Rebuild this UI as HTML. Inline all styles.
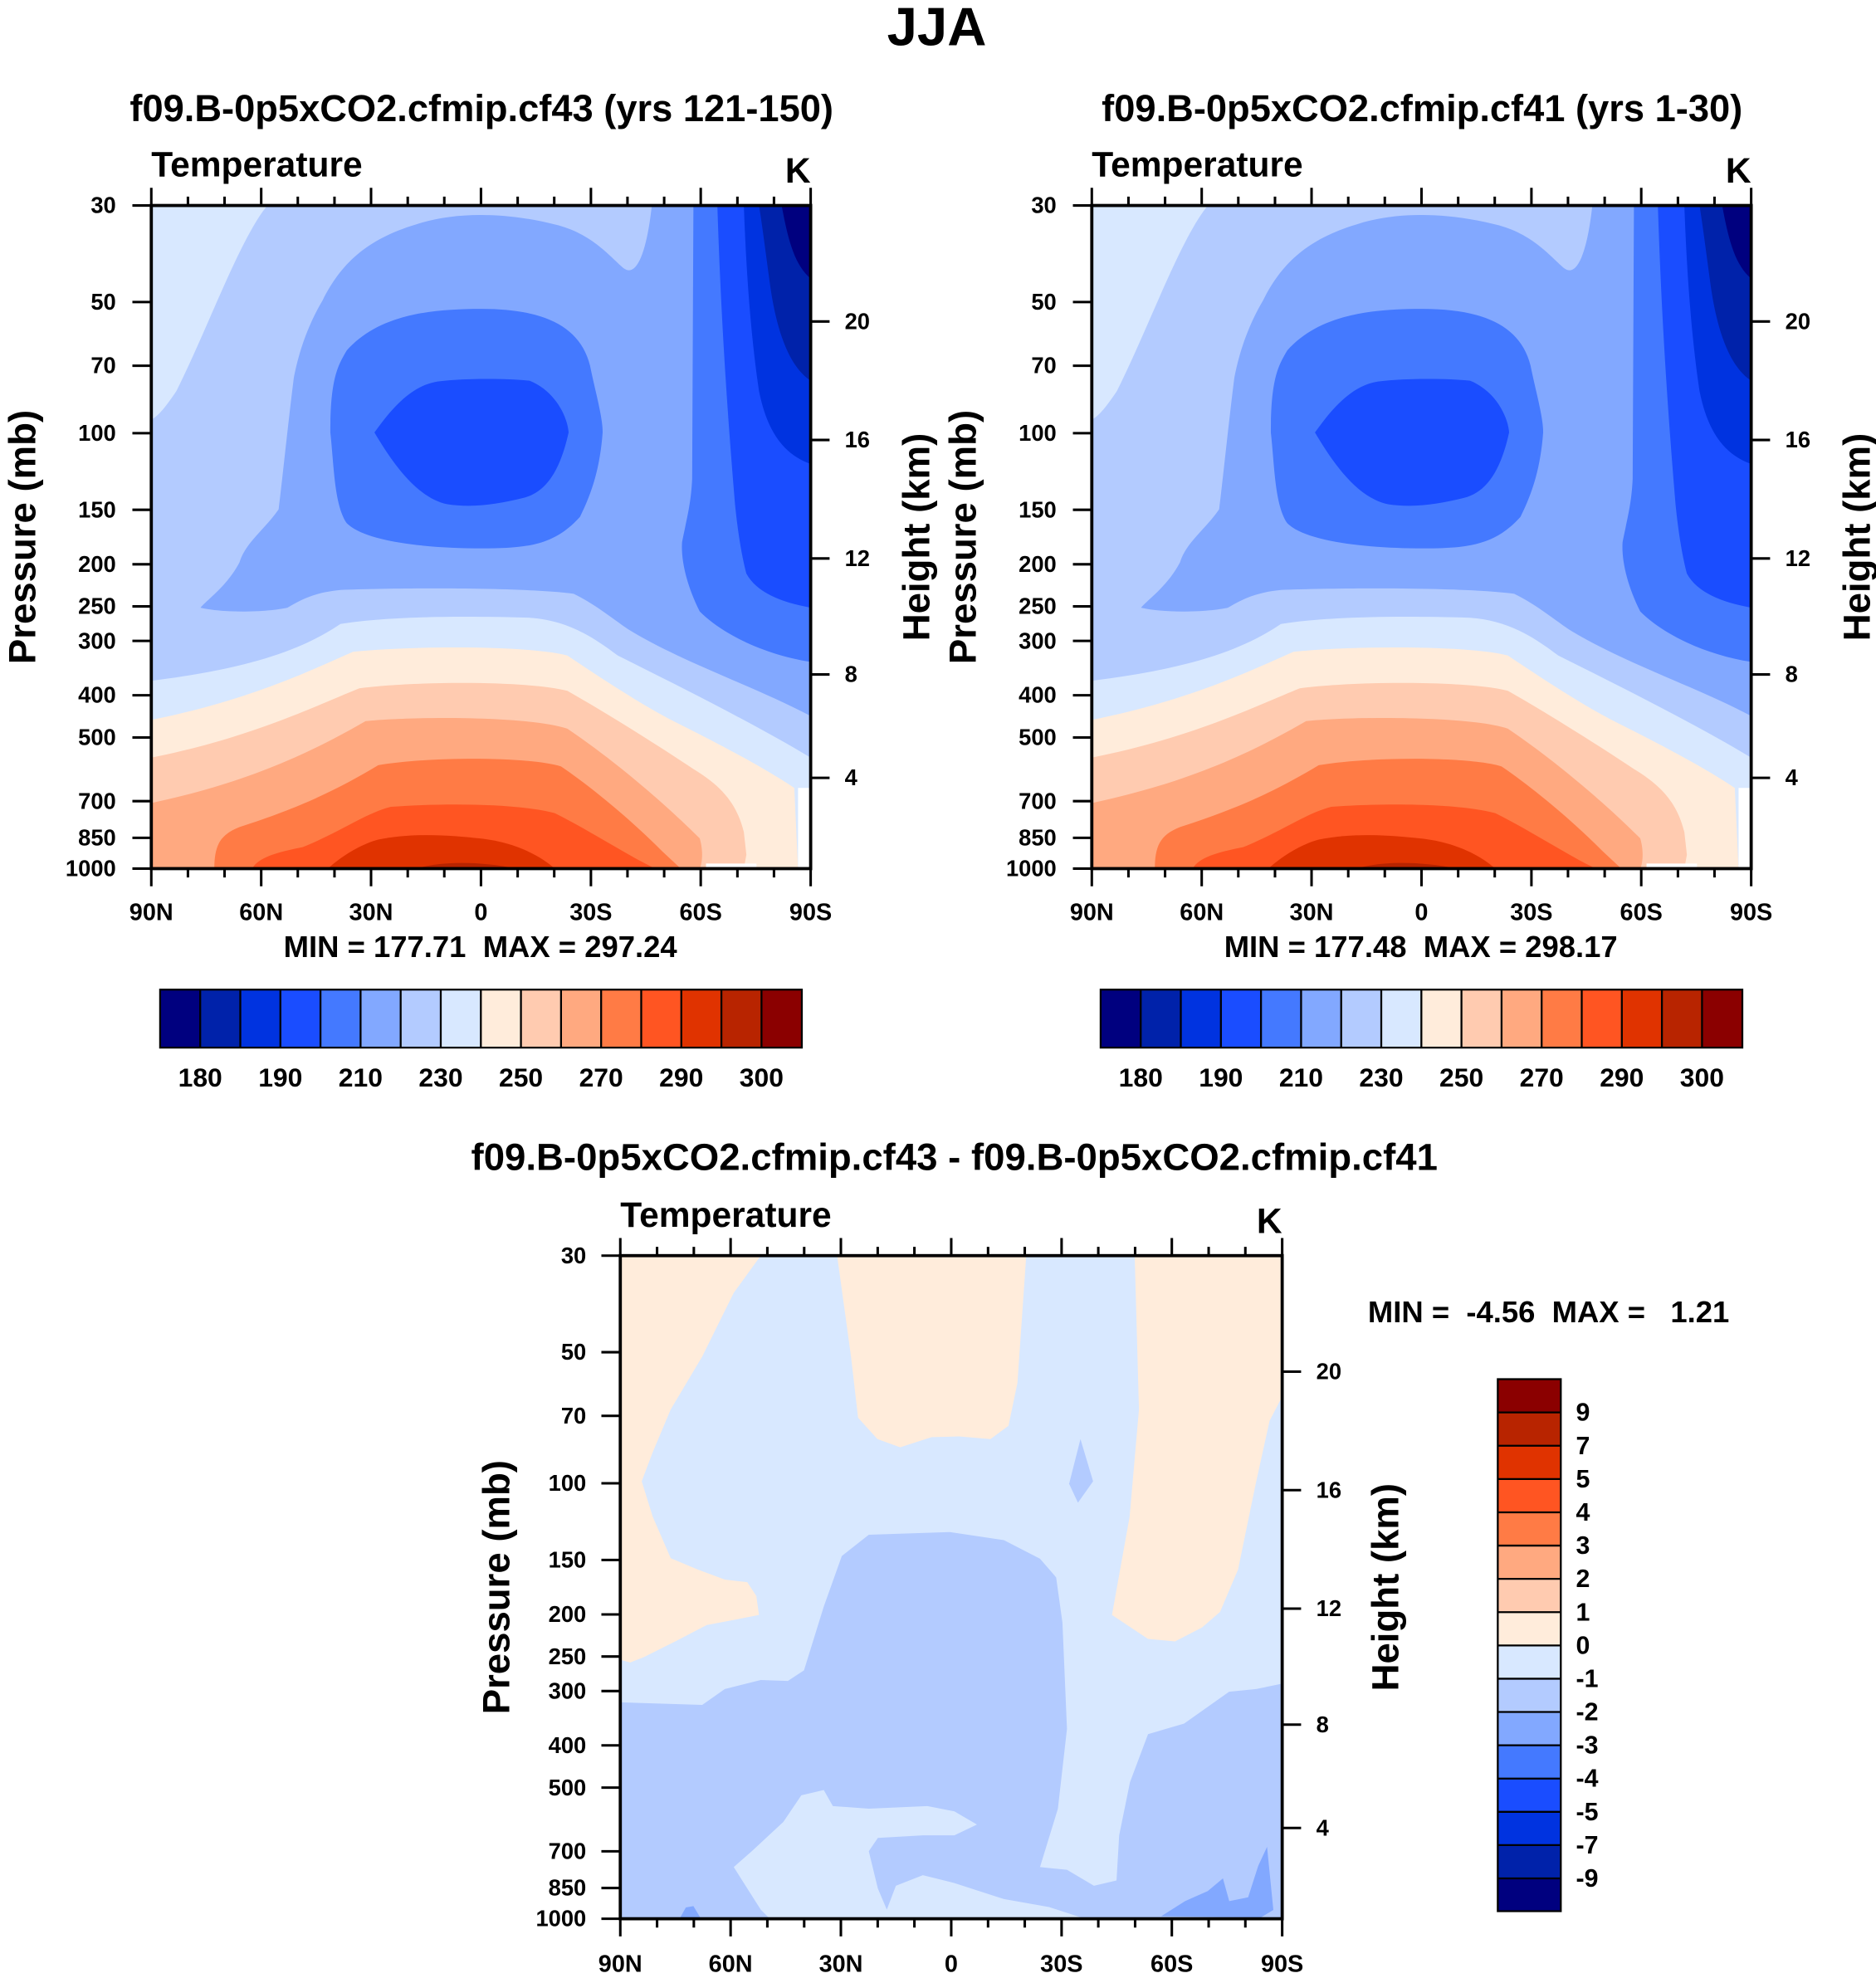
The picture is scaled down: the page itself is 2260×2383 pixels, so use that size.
<!DOCTYPE html>
<html><head><meta charset="utf-8"><style>
html,body{margin:0;padding:0;background:#fff}
svg{display:block}
text{font-family:"Liberation Sans",sans-serif;font-weight:bold;fill:#000}
</style></head><body>
<svg width="2260" height="2383" viewBox="0 0 1488 1569" xmlns="http://www.w3.org/2000/svg">
<defs>
<g id="fieldT">
<rect x="120" y="163" width="523" height="526" fill="#b3cbff"/>
<path fill="#d8e8ff" d="M120,163 L212,163 C190,190 165,260 140,310 C130,325 125,330 120,333 Z"/>
<path fill="#82a8ff" d="M517,163 C513,200 505,220 495,213 C485,205 470,185 440,178 C400,168 360,168 330,178 C290,190 270,210 256,238 C240,265 235,290 233,300 C228,340 224,380 221,404 C210,420 195,430 190,446 C180,465 165,475 159,482 C180,487 215,485 228,482 C240,475 250,470 270,468 C320,466 420,466 455,471 C470,478 485,490 498,499 C540,525 600,545 643,568 L643,163 Z"/>
<path fill="#4479ff" d="M262,343 C262,300 268,290 275,278 C300,250 340,245 382,245 C430,245 460,258 468,290 C472,310 478,330 478,343 C476,370 470,390 460,410 C440,432 420,435 382,435 C340,435 290,430 275,415 C265,400 265,370 262,343 Z"/>
<path fill="#1a4dff" d="M297,343 C310,325 325,307 345,303 C365,300 400,300 420,302 C440,310 450,330 451,343 C445,370 435,390 415,395 C395,400 375,403 355,400 C330,395 310,365 297,343 Z"/>
<path fill="#4479ff" d="M550,163 L643,163 L643,525 C610,520 575,505 555,485 C545,465 540,445 541,430 C545,410 548,400 549,380 Z"/>
<path fill="#1a4dff" d="M569,163 L643,163 L643,482 C620,478 600,470 592,455 C588,440 585,420 583,400 C578,340 572,260 569,163 Z"/>
<path fill="#0033e0" d="M590,163 L643,163 L643,368 C620,360 608,340 602,310 C596,270 592,220 590,163 Z"/>
<path fill="#0022aa" d="M602,163 L643,163 L643,302 C625,290 615,260 610,220 C606,190 604,175 602,163 Z"/>
<path fill="#00007f" d="M620,163 L643,163 L643,221 C630,210 625,190 620,163 Z"/>
<path fill="#d8e8ff" d="M120,540 C200,530 240,515 270,495 C300,490 350,488 420,490 C450,492 470,505 490,520 C540,545 600,575 643,601 L643,689 L120,689 Z"/>
<path fill="#ffecdb" d="M120,571 C200,555 250,530 280,517 C330,512 420,512 450,520 C480,540 510,560 540,575 C590,600 615,615 630,625 L633,689 L120,689 Z"/>
<path fill="#ffcbb0" d="M120,601 C200,585 250,560 285,546 C330,540 420,540 450,548 C480,565 520,590 550,610 C575,625 585,640 590,660 L592,678 L590,689 L120,689 Z"/>
<path fill="#ffa980" d="M120,637 C200,620 250,595 290,572 C330,568 420,568 450,578 C490,605 530,640 555,665 C558,675 557,685 555,689 L120,689 Z"/>
<path fill="#ff7b45" d="M170,689 C170,670 175,662 190,656 C240,640 270,625 300,607 C340,600 420,600 445,608 C470,625 500,650 525,675 L540,689 Z"/>
<path fill="#ff5522" d="M200,689 C205,680 220,676 240,672 C270,660 290,645 310,640 C350,637 410,637 440,645 C470,660 500,680 520,689 Z"/>
<path fill="#e03300" d="M260,689 C270,680 285,670 300,666 C330,660 360,663 380,665 C410,668 430,680 440,689 Z"/>
<path fill="#b82400" d="M330,689 C350,683 380,683 410,689 Z"/>
<rect x="560" y="685" width="40" height="4" fill="#fff"/>
<rect x="633" y="625" width="10" height="64" fill="#fff"/>
</g>
<path id="lt" fill="none" stroke="#000" stroke-width="2" d="M0,0v-14 M29.06,0v-7 M58.11,0v-7 M87.17,0v-14 M116.2,0v-7 M145.3,0v-7 M174.3,0v-14 M203.4,0v-7 M232.4,0v-7 M261.5,0v-14 M290.6,0v-7 M319.6,0v-7 M348.7,0v-14 M377.7,0v-7 M406.8,0v-7 M435.8,0v-14 M464.9,0v-7 M493.9,0v-7 M523,0v-14"/>
<g id="axesT">
<rect x="120" y="163" width="523" height="526" fill="none" stroke="#000" stroke-width="2.5"/>
<use href="#lt" transform="translate(120,163)"/>
<use href="#lt" transform="translate(120,689) scale(1,-1)"/>
<path stroke="#000" stroke-width="2" d="M105,163h15 M105,239.6h15 M105,290.1h15 M105,343.6h15 M105,404.4h15 M105,447.6h15 M105,481h15 M105,508.4h15 M105,551.5h15 M105,585h15 M105,635.5h15 M105,664.6h15 M105,689h15 M643,255h15 M643,349h15 M643,443h15 M643,535h15 M643,617h15"/>
<g font-size="18" text-anchor="end">
<text x="92" y="169">30</text><text x="92" y="245.6">50</text><text x="92" y="296.1">70</text><text x="92" y="349.6">100</text><text x="92" y="410.4">150</text><text x="92" y="453.6">200</text><text x="92" y="487">250</text><text x="92" y="514.4">300</text><text x="92" y="557.5">400</text><text x="92" y="591">500</text><text x="92" y="641.5">700</text><text x="92" y="670.6">850</text><text x="92" y="695">1000</text>
</g>
<g font-size="18">
<text x="670" y="261">20</text><text x="670" y="355">16</text><text x="670" y="449">12</text><text x="670" y="541">8</text><text x="670" y="623">4</text>
</g>
<g font-size="19" text-anchor="middle">
<text x="120" y="730">90N</text><text x="207.2" y="730">60N</text><text x="294.3" y="730">30N</text><text x="381.5" y="730">0</text><text x="468.7" y="730">30S</text><text x="555.8" y="730">60S</text><text x="643" y="730">90S</text>
</g>
<text x="120" y="140" font-size="28">Temperature</text>
<text x="643" y="145" font-size="28" text-anchor="end">K</text>
<text font-size="30" text-anchor="middle" transform="translate(28,426) rotate(-90)">Pressure (mb)</text>
<text font-size="30" text-anchor="middle" transform="translate(737,426) rotate(-90)">Height (km)</text>
</g>
<g id="cbarH">
<rect x="127" y="785" width="31.8" height="46" fill="#00007f"/>
<rect x="158.8" y="785" width="31.8" height="46" fill="#0022aa"/>
<rect x="190.6" y="785" width="31.8" height="46" fill="#0033e0"/>
<rect x="222.4" y="785" width="31.8" height="46" fill="#1a4dff"/>
<rect x="254.2" y="785" width="31.8" height="46" fill="#4479ff"/>
<rect x="286" y="785" width="31.8" height="46" fill="#82a8ff"/>
<rect x="317.8" y="785" width="31.8" height="46" fill="#b3cbff"/>
<rect x="349.6" y="785" width="31.8" height="46" fill="#d8e8ff"/>
<rect x="381.4" y="785" width="31.8" height="46" fill="#ffecdb"/>
<rect x="413.2" y="785" width="31.8" height="46" fill="#ffcbb0"/>
<rect x="445" y="785" width="31.8" height="46" fill="#ffa980"/>
<rect x="476.8" y="785" width="31.8" height="46" fill="#ff7b45"/>
<rect x="508.6" y="785" width="31.8" height="46" fill="#ff5522"/>
<rect x="540.4" y="785" width="31.8" height="46" fill="#e03300"/>
<rect x="572.2" y="785" width="31.8" height="46" fill="#b82400"/>
<rect x="604" y="785" width="32" height="46" fill="#8b0000"/>
<path fill="none" stroke="#000" stroke-width="1.5" d="M127,785h509v46h-509Z M158.8,785v46 M190.6,785v46 M222.4,785v46 M254.2,785v46 M286,785v46 M317.8,785v46 M349.6,785v46 M381.4,785v46 M413.2,785v46 M445,785v46 M476.8,785v46 M508.6,785v46 M540.4,785v46 M572.2,785v46 M604,785v46"/>
<g font-size="21" text-anchor="middle">
<text x="158.8" y="862">180</text><text x="222.4" y="862">190</text><text x="286" y="862">210</text><text x="349.6" y="862">230</text><text x="413.2" y="862">250</text><text x="476.8" y="862">270</text><text x="540.4" y="862">290</text><text x="604" y="862">300</text>
</g>
</g>
</defs>

<text x="743" y="36" font-size="43" text-anchor="middle">JJA</text>

<!-- left -->
<text x="382" y="96" font-size="29.8" text-anchor="middle">f09.B-0p5xCO2.cfmip.cf43 (yrs 121-150)</text>
<use href="#fieldT"/>
<use href="#axesT"/>
<text x="381" y="759" font-size="24" text-anchor="middle" xml:space="preserve">MIN = 177.71  MAX = 297.24</text>
<use href="#cbarH"/>

<!-- right -->
<text x="1128" y="96" font-size="29.8" text-anchor="middle">f09.B-0p5xCO2.cfmip.cf41 (yrs 1-30)</text>
<g transform="translate(746,0)">
<use href="#fieldT"/>
<use href="#axesT"/>
<text x="381" y="759" font-size="24" text-anchor="middle" xml:space="preserve">MIN = 177.48  MAX = 298.17</text>
<use href="#cbarH"/>
</g>

<!-- bottom -->
<text x="757" y="928" font-size="30" text-anchor="middle">f09.B-0p5xCO2.cfmip.cf43 - f09.B-0p5xCO2.cfmip.cf41</text>
<rect x="492" y="996" width="525" height="526" fill="#d8e8ff"/>
<path fill="#ffecdb" d="M492,996 L603.4,996 L582,1025.5 L557,1076 L532,1118 L517.7,1152 L509,1175 L517.7,1203 L532,1236 L553.4,1245 L574.9,1253 L592.7,1255 L599.9,1266 L602,1281 L582,1285 L560.6,1289 L535.6,1302 L510.6,1314.5 L499.9,1318.7 L492,1316.6 Z"/>
<path fill="#ffecdb" d="M664,996 L675,1076 L680.6,1124.6 L696,1141.5 L714,1148 L739,1140 L760.6,1139.4 L785.6,1141.5 L799.9,1131 L807,1097 L814,996 Z"/>
<path fill="#ffecdb" d="M900,996 L903.4,1118 L896,1203 L882,1281 L910.6,1300 L932,1302 L953.4,1291 L967.7,1278.6 L982,1245 L996,1177 L1007,1127 L1017,1107.8 L1017,996 Z"/>
<path fill="#b3cbff" d="M857,1141.5 L848,1177 L855,1192 L867,1175 Z"/>
<path fill="#b3cbff" d="M492,1350.3 L557,1352.4 L574.9,1339.8 L603.4,1332.6 L624.9,1333.4 L637.7,1325 L653.4,1274.4 L667.7,1234.3 L689.1,1217.4 L753.4,1215.3 L796.3,1221.7 L824.9,1236.4 L837.7,1251.2 L842.7,1287 L846.3,1371.4 L839.1,1434.7 L824.9,1481 L846.3,1483.2 L867.7,1495.8 L885.6,1491.6 L887.7,1455.8 L896.3,1413.6 L910.6,1375.6 L939.2,1367.2 L974.9,1341.9 L996.3,1339.8 L1017,1335.5 L1017,1522 L492,1522 Z"/>
<path fill="#d8e8ff" d="M610.6,1522 L603.4,1514.8 L582,1481 L596.3,1468.4 L621.3,1445.2 L635.6,1424.1 L653.4,1419.9 L660.6,1432.6 L689.1,1434.7 L735.6,1432.6 L757,1436.8 L774.9,1447.3 L757,1455.8 L732,1455.8 L696.3,1457.9 L689.1,1468.4 L696.3,1498 L703.4,1514.8 L710.6,1495.8 L732,1487.4 L757,1493.7 L796.3,1506.4 L832,1512.7 L860.6,1522 Z"/>
<path fill="#82a8ff" d="M921,1520 L940,1508 L958,1500 L970,1490 L975,1508 L990,1505 L998,1480 L1005,1465 L1010,1515 L1000,1521 Z"/>
<path fill="#82a8ff" d="M539,1522 L544,1513 L550,1512 L556,1522 Z"/>
<rect x="492" y="996" width="525" height="526" fill="none" stroke="#000" stroke-width="2.5"/>
<use href="#lt" transform="translate(492,996) scale(1.00382,1)"/>
<use href="#lt" transform="translate(492,1522) scale(1.00382,-1)"/>
<path stroke="#000" stroke-width="2" d="M477,996h15 M477,1072.6h15 M477,1123.1h15 M477,1176.6h15 M477,1237.4h15 M477,1280.6h15 M477,1314h15 M477,1341.4h15 M477,1384.5h15 M477,1418h15 M477,1468.5h15 M477,1497.6h15 M477,1522h15 M1017,1088h15 M1017,1182h15 M1017,1276h15 M1017,1368h15 M1017,1450h15"/>
<g font-size="18" text-anchor="end">
<text x="465" y="1002">30</text><text x="465" y="1078.6">50</text><text x="465" y="1129.1">70</text><text x="465" y="1182.6">100</text><text x="465" y="1243.4">150</text><text x="465" y="1286.6">200</text><text x="465" y="1320">250</text><text x="465" y="1347.4">300</text><text x="465" y="1390.5">400</text><text x="465" y="1424">500</text><text x="465" y="1474.5">700</text><text x="465" y="1503.6">850</text><text x="465" y="1528">1000</text>
</g>
<g font-size="18">
<text x="1044" y="1094">20</text><text x="1044" y="1188">16</text><text x="1044" y="1282">12</text><text x="1044" y="1374">8</text><text x="1044" y="1456">4</text>
</g>
<g font-size="19" text-anchor="middle">
<text x="492" y="1564">90N</text><text x="579.5" y="1564">60N</text><text x="667" y="1564">30N</text><text x="754.5" y="1564">0</text><text x="842" y="1564">30S</text><text x="929.5" y="1564">60S</text><text x="1017" y="1564">90S</text>
</g>
<text x="492" y="973" font-size="28">Temperature</text>
<text x="1017" y="978" font-size="28" text-anchor="end">K</text>
<text font-size="30" text-anchor="middle" transform="translate(404,1259) rotate(-90)">Pressure (mb)</text>
<text font-size="30" text-anchor="middle" transform="translate(1109,1259) rotate(-90)">Height (km)</text>
<text x="1085" y="1049" font-size="24" xml:space="preserve">MIN =  -4.56  MAX =   1.21</text>

<g>
<rect x="1188" y="1094" width="50" height="26.4" fill="#8b0000"/>
<rect x="1188" y="1120.4" width="50" height="26.4" fill="#b82400"/>
<rect x="1188" y="1146.8" width="50" height="26.4" fill="#e03300"/>
<rect x="1188" y="1173.2" width="50" height="26.4" fill="#ff5522"/>
<rect x="1188" y="1199.6" width="50" height="26.4" fill="#ff7b45"/>
<rect x="1188" y="1226" width="50" height="26.4" fill="#ffa980"/>
<rect x="1188" y="1252.4" width="50" height="26.4" fill="#ffcbb0"/>
<rect x="1188" y="1278.8" width="50" height="26.4" fill="#ffecdb"/>
<rect x="1188" y="1305.2" width="50" height="26.4" fill="#d8e8ff"/>
<rect x="1188" y="1331.6" width="50" height="26.4" fill="#b3cbff"/>
<rect x="1188" y="1358" width="50" height="26.4" fill="#82a8ff"/>
<rect x="1188" y="1384.4" width="50" height="26.4" fill="#4479ff"/>
<rect x="1188" y="1410.8" width="50" height="26.4" fill="#1a4dff"/>
<rect x="1188" y="1437.2" width="50" height="26.4" fill="#0033e0"/>
<rect x="1188" y="1463.6" width="50" height="26.4" fill="#0022aa"/>
<rect x="1188" y="1490" width="50" height="26" fill="#00007f"/>
<path fill="none" stroke="#000" stroke-width="1.5" d="M1188,1094h50v422h-50Z M1188,1120.4h50 M1188,1146.8h50 M1188,1173.2h50 M1188,1199.6h50 M1188,1226h50 M1188,1252.4h50 M1188,1278.8h50 M1188,1305.2h50 M1188,1331.6h50 M1188,1358h50 M1188,1384.4h50 M1188,1410.8h50 M1188,1437.2h50 M1188,1463.6h50 M1188,1490h50"/>
<g font-size="20">
<text x="1250" y="1127">9</text><text x="1250" y="1153.4">7</text><text x="1250" y="1179.8">5</text><text x="1250" y="1206.2">4</text><text x="1250" y="1232.6">3</text><text x="1250" y="1259">2</text><text x="1250" y="1285.4">1</text><text x="1250" y="1311.8">0</text><text x="1250" y="1338.2">-1</text><text x="1250" y="1364.6">-2</text><text x="1250" y="1391">-3</text><text x="1250" y="1417.4">-4</text><text x="1250" y="1443.8">-5</text><text x="1250" y="1470.2">-7</text><text x="1250" y="1496.6">-9</text>
</g>
</g>
</svg>
</body></html>
